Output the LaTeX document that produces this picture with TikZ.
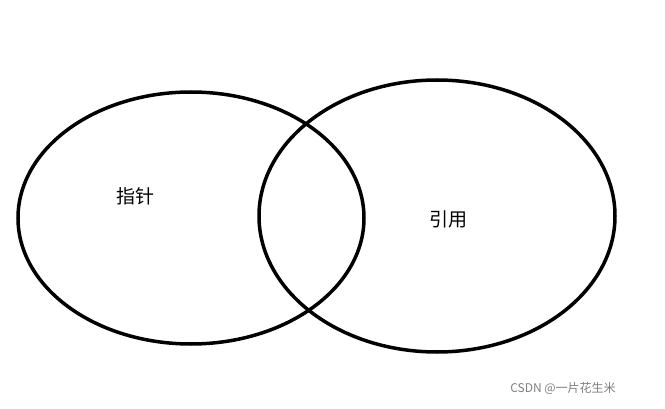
\documentclass[tikz,border=0pt]{standalone}
\usepackage{fontspec}
\newfontfamily\cjk{Noto Sans CJK SC}
\begin{document}
\begin{tikzpicture}[x=1pt,y=-1pt,
  ring/.style={draw=black,line width=3.5pt},
  lbl/.style={font=\cjk\fontsize{19}{22}\selectfont},
  wm/.style={font=\cjk\fontsize{12}{14}\selectfont,text=gray}]
\useasboundingbox[fill=white] (0,0) rectangle (665,409);
\draw[ring] (191,218) ellipse [x radius=173, y radius=126];
\draw[ring] (437,216) ellipse [x radius=178, y radius=136];
\node[lbl] (zz) at (135,196) {指针};
\node[lbl] (yy) at (448,219) {引用};
\node[wm] (w) at (563,388) {CSDN @一片花生米};
\end{tikzpicture}
\end{document}
